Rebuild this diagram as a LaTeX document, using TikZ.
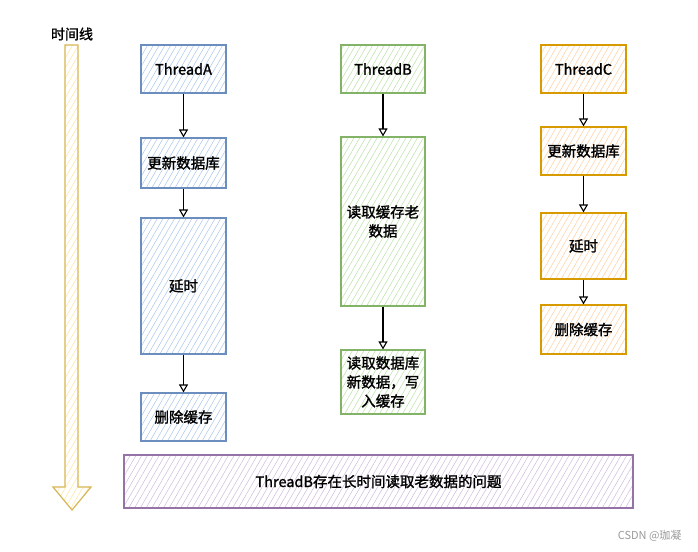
\documentclass[tikz,border=0pt]{standalone}
\usepackage{fontspec}
\setmainfont{Noto Sans CJK SC}[AutoFakeBold=1.5]
\usetikzlibrary{patterns.meta,arrows.meta}
\definecolor{bluestroke}{HTML}{6C8EBF}
\definecolor{bluefill}{HTML}{A9C4EB}
\definecolor{greenstroke}{HTML}{82B366}
\definecolor{greenfill}{HTML}{B9E0A5}
\definecolor{orangestroke}{HTML}{D79B00}
\definecolor{orangefill}{HTML}{FFCE9F}
\definecolor{purplestroke}{HTML}{9673A6}
\definecolor{purplefill}{HTML}{D0B9DB}
\definecolor{goldstroke}{HTML}{D6B656}
\definecolor{goldfill}{HTML}{FFE599}
\tikzset{
  box/.style={draw, line width=1.2pt, rectangle, inner sep=2pt, align=center,
    font=\fontsize{14.5}{19}\selectfont\bfseries,
    pattern={Lines[angle=60,distance=5pt,line width=0.5pt]}},
  bluebox/.style={box, draw=bluestroke, pattern color=bluefill},
  greenbox/.style={box, draw=greenstroke, pattern color=greenfill},
  orangebox/.style={box, draw=orangestroke, pattern color=orangefill},
  purplebox/.style={box, draw=purplestroke, pattern color=purplefill},
  flow/.style={draw=black, line width=1.1pt, -{Triangle[open,length=8pt,width=9pt]}},
}
\begin{document}
\begin{tikzpicture}[x=1pt,y=-1pt]
\useasboundingbox (0,0) rectangle (698,551);
% timeline
\node[font=\fontsize{14}{16}\selectfont\bfseries] (tl) at (72,34) {时间线};
\path[draw=goldstroke, line width=1.2pt, pattern={Lines[angle=60,distance=5pt,line width=0.5pt]}, pattern color=goldfill]
  (65,45) -- (78,45) -- (78,487) -- (91,487) -- (72,510) -- (53,487) -- (65,487) -- cycle;
% Thread A
\node[bluebox, minimum width=85pt, minimum height=48pt] (a0) at (183.5,69) {ThreadA};
\node[bluebox, minimum width=85pt, minimum height=50pt] (a1) at (183.5,163) {更新数据库};
\node[bluebox, minimum width=85pt, minimum height=136pt] (a2) at (183.5,286) {延时};
\node[bluebox, minimum width=85pt, minimum height=48pt] (a3) at (183.5,417) {删除缓存};
\draw[flow] (a0) -- (a1);
\draw[flow] (a1) -- (a2);
\draw[flow] (a2) -- (a3);
% Thread B
\node[greenbox, minimum width=84pt, minimum height=169pt, text width=80pt] (b1) at (383,221.5) {读取缓存老\\数据};
\node[greenbox, minimum width=84pt, minimum height=48pt] (b0) at (383,69) {ThreadB};
\node[greenbox, minimum width=84pt, minimum height=64pt, text width=80pt, inner sep=0pt] (b2) at (383,382) {读取数据库\\新数据，写\\入缓存};
\draw[flow] (b0) -- (b1);
\draw[flow] (b1) -- (b2);
% Thread C
\node[orangebox, minimum width=85pt, minimum height=48pt] (c0) at (583.5,69) {ThreadC};
\node[orangebox, minimum width=85pt, minimum height=48pt] (c1) at (583.5,151) {更新数据库};
\node[orangebox, minimum width=85pt, minimum height=66pt] (c2) at (583.5,246) {延时};
\node[orangebox, minimum width=85pt, minimum height=49pt] (c3) at (583.5,329.5) {删除缓存};
\draw[flow] (c0) -- (c1);
\draw[flow] (c1) -- (c2);
\draw[flow] (c2) -- (c3);
% bottom
\node[purplebox, minimum width=509pt, minimum height=53pt] (p) at (378.5,481.5) {ThreadB存在长时间读取老数据的问题};
% watermark
\node[text=gray!80, font=\fontsize{11}{12}\selectfont, anchor=east] (wm) at (685,536) {CSDN @珈凝};
\end{tikzpicture}
\end{document}
